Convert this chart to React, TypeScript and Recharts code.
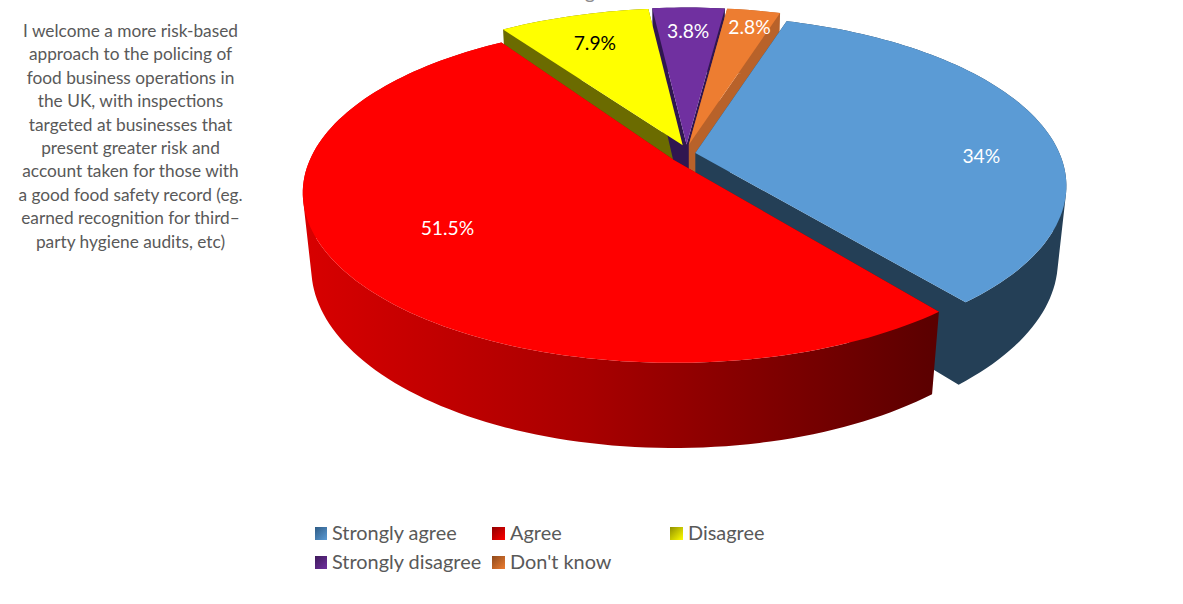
import { PieChart, Pie, Legend } from 'recharts';

const categories = ['Strongly agree', 'Agree', 'Disagree', 'Strongly disagree', "Don't know"];
const shares = [34, 51.5, 7.9, 3.8, 2.8];
const faceColors = ['#5B9BD5', '#FF0000', '#FFFF00', '#7030A0', '#ED7D31'];
const wallColors = ['#243F56', '#A00000', '#6B6B00', '#301650', '#B8622A'];
const swatchDark = ['#2F5C85', '#8F0000', '#8F8F00', '#3E1A5A', '#8F4A1C'];
const labelColors = ['#FFFFFF', '#FFFFFF', '#000000', '#FFFFFF', '#FFFFFF'];
const questionLines = [
  'I welcome a more risk-based',
  'approach to the policing of',
  'food business operations in',
  'the UK, with inspections',
  'targeted at businesses that',
  'present greater risk and',
  'account taken for those with',
  'a good food safety record (eg.',
  'earned recognition for third–',
  'party hygiene audits, etc)',
];

const data = categories.map((name, i) => ({ name, value: shares[i], fill: faceColors[i] }));

// camera used to fake the 3D tilt
const ELEV = (26.7 * Math.PI) / 180;
const DIST = 4.6;
const DEPTH = 0.231;
const explodeX = [9, 16, 10.7, 10.7, 10.7];
const explodeY = [10.5, 8, 10.5, 10.5, 10.5];
// small per-slice corrections, the perspective model is not exact
const startTrim = [0, 2.2, 0, 0, 0];
const endTrim = [-1.2, -1.5, 0, 0, 0];
const labelNudge = [
  [26, 26],
  [11, -15],
  [-3, -2],
  [0, -7],
  [10, -13],
];

const rad = (deg: number) => (deg * Math.PI) / 180;

function project(p: any, angle: number, r: number, z: number) {
  const i = categories.indexOf(p.name);
  const X = Math.cos(rad(angle)) * r;
  const Y = -Math.sin(rad(angle)) * r;
  const w = 1 - (Y * Math.cos(ELEV) + z * Math.sin(ELEV)) / DIST;
  const sx = (p.outerRadius * X) / w;
  const sy = (p.outerRadius * (Y * Math.sin(ELEV) - z * Math.cos(ELEV))) / w;
  return [
    p.cx + sx + explodeX[i] * Math.cos(rad(p.midAngle)),
    p.cy + sy - explodeY[i] * Math.sin(rad(p.midAngle)),
  ];
}

function arcPoints(p: any, z: number) {
  const i = categories.indexOf(p.name);
  const from = p.startAngle - startTrim[i];
  const to = p.endAngle + endTrim[i];
  const pts = [];
  const steps = Math.max(4, Math.ceil(Math.abs(to - from) / 1.5));
  for (let s = 0; s <= steps; s++) {
    pts.push(project(p, from + ((to - from) * s) / steps, 1, z));
  }
  return pts;
}

const toPath = (pts: number[][]) =>
  'M' + pts.map((q) => `${q[0].toFixed(2)},${q[1].toFixed(2)}`).join('L') + 'Z';

// every quad wound the same way, so one path covers the wall with no seams or folds
function quadPath(quad: number[][]) {
  let area = 0;
  quad.forEach((a, k) => {
    const b = quad[(k + 1) % quad.length];
    area += a[0] * b[1] - b[0] * a[1];
  });
  return toPath(area < 0 ? quad.slice().reverse() : quad);
}

const makeWall = (indices: number[]) => (p: any) => {
  const i = categories.indexOf(p.name);
  if (!indices.includes(i)) return <g />;
  const top = arcPoints(p, 0);
  const bottom = arcPoints(p, -DEPTH);
  const apexTop = project(p, 0, 0, 0);
  const apexBottom = project(p, 0, 0, -DEPTH);
  const last = top.length - 1;
  let d = quadPath([apexTop, top[0], bottom[0], apexBottom]);
  d += quadPath([apexTop, top[last], bottom[last], apexBottom]);
  for (let s = 0; s < last; s++) {
    d += quadPath([top[s], top[s + 1], bottom[s + 1], bottom[s]]);
  }
  const isRed = p.name === 'Agree';
  return (
    <g>
      {isRed && (
        <defs>
          <linearGradient id="redWall" gradientUnits="userSpaceOnUse" x1="303" y1="0" x2="937" y2="0">
            <stop offset="0" stopColor="#D80000" />
            <stop offset="0.45" stopColor="#A80000" />
            <stop offset="1" stopColor="#5A0000" />
          </linearGradient>
        </defs>
      )}
      <path d={d} fill={isRed ? 'url(#redWall)' : wallColors[i]} />
    </g>
  );
};

const FarWalls = makeWall([2, 3, 4]);
const NearWalls = makeWall([0, 1]);

const FaceShape = (p: any) => {
  const top = arcPoints(p, 0);
  const apex = project(p, 0, 0, 0);
  return <path d={toPath([apex, ...top])} fill={p.fill} />;
};

const renderLabel = (p: any) => {
  const i = categories.indexOf(p.name);
  const [x, y] = project(p, p.midAngle, 0.75, 0);
  return (
    <text
      x={x + labelNudge[i][0]}
      y={y + labelNudge[i][1]}
      fill={labelColors[i]}
      textAnchor="middle"
      dominantBaseline="central"
      fontFamily="Lato"
      fontSize={19.3}
    >
      {`${p.value}%`}
    </text>
  );
};

const legendColumns = [315, 492, 670];
const legendRows = [532, 561];
const legendSwatchBox = [17, 18, 18];

const LegendBlock = () => (
  <div style={{ position: 'relative', width: 1183, height: 604 }}>
    {categories.map((name, i) => (
      <div
        key={name}
        style={{
          position: 'absolute',
          left: legendColumns[i % 3],
          top: legendRows[Math.floor(i / 3)] - 12,
          height: 24,
          display: 'flex',
          alignItems: 'center',
          whiteSpace: 'nowrap',
          fontFamily: 'Lato',
          fontSize: 19.9,
          color: '#595959',
        }}
      >
        <span style={{ width: legendSwatchBox[i % 3] }}>
          <span
            style={{
              display: 'block',
              width: legendSwatchBox[i % 3] - 5,
              height: 13,
              marginTop: 2,
              background: `linear-gradient(135deg, ${swatchDark[i]}, ${faceColors[i]})`,
            }}
          />
        </span>
        {name}
      </div>
    ))}
  </div>
);

const pieProps = {
  data,
  dataKey: 'value',
  nameKey: 'name',
  cx: 686.5,
  cy: 155,
  outerRadius: 364,
  startAngle: 72.7,
  endAngle: -287.3,
  stroke: 'none',
  legendType: 'none' as const,
  isAnimationActive: false,
};

export default function App() {
  return (
    <div style={{ position: 'absolute', left: 0, top: 0, width: 1183, height: 604, overflow: 'hidden', background: '#fff' }}>
      <PieChart width={1183} height={604} margin={{ top: 0, right: 0, bottom: 0, left: 0 }}>
        <Pie {...pieProps} shape={FarWalls} />
        <Pie {...pieProps} shape={NearWalls} />
        <Pie {...pieProps} shape={FaceShape} label={renderLabel} labelLine={false} />
        <Legend
          content={() => <LegendBlock />}
          wrapperStyle={{ position: 'absolute', left: 0, top: 0, width: 1183, height: 604, pointerEvents: 'none' }}
        />
      </PieChart>
      {questionLines.map((line, i) => (
        <div
          key={line}
          style={{
            position: 'absolute',
            left: 0,
            width: 261,
            top: 19 + i * 23.4,
            lineHeight: '23px',
            textAlign: 'center',
            whiteSpace: 'nowrap',
            fontFamily: 'Lato',
            fontSize: 17.3,
            color: '#595959',
          }}
        >
          {line}
        </div>
      ))}
      {/* descender of a title clipped by the top of the picture */}
      <div
        style={{
          position: 'absolute',
          left: 580,
          width: 20,
          top: -19,
          lineHeight: '20px',
          textAlign: 'center',
          fontFamily: 'Lato',
          fontSize: 20,
          color: '#8C8C8C',
        }}
      >
        g
      </div>
    </div>
  );
}
